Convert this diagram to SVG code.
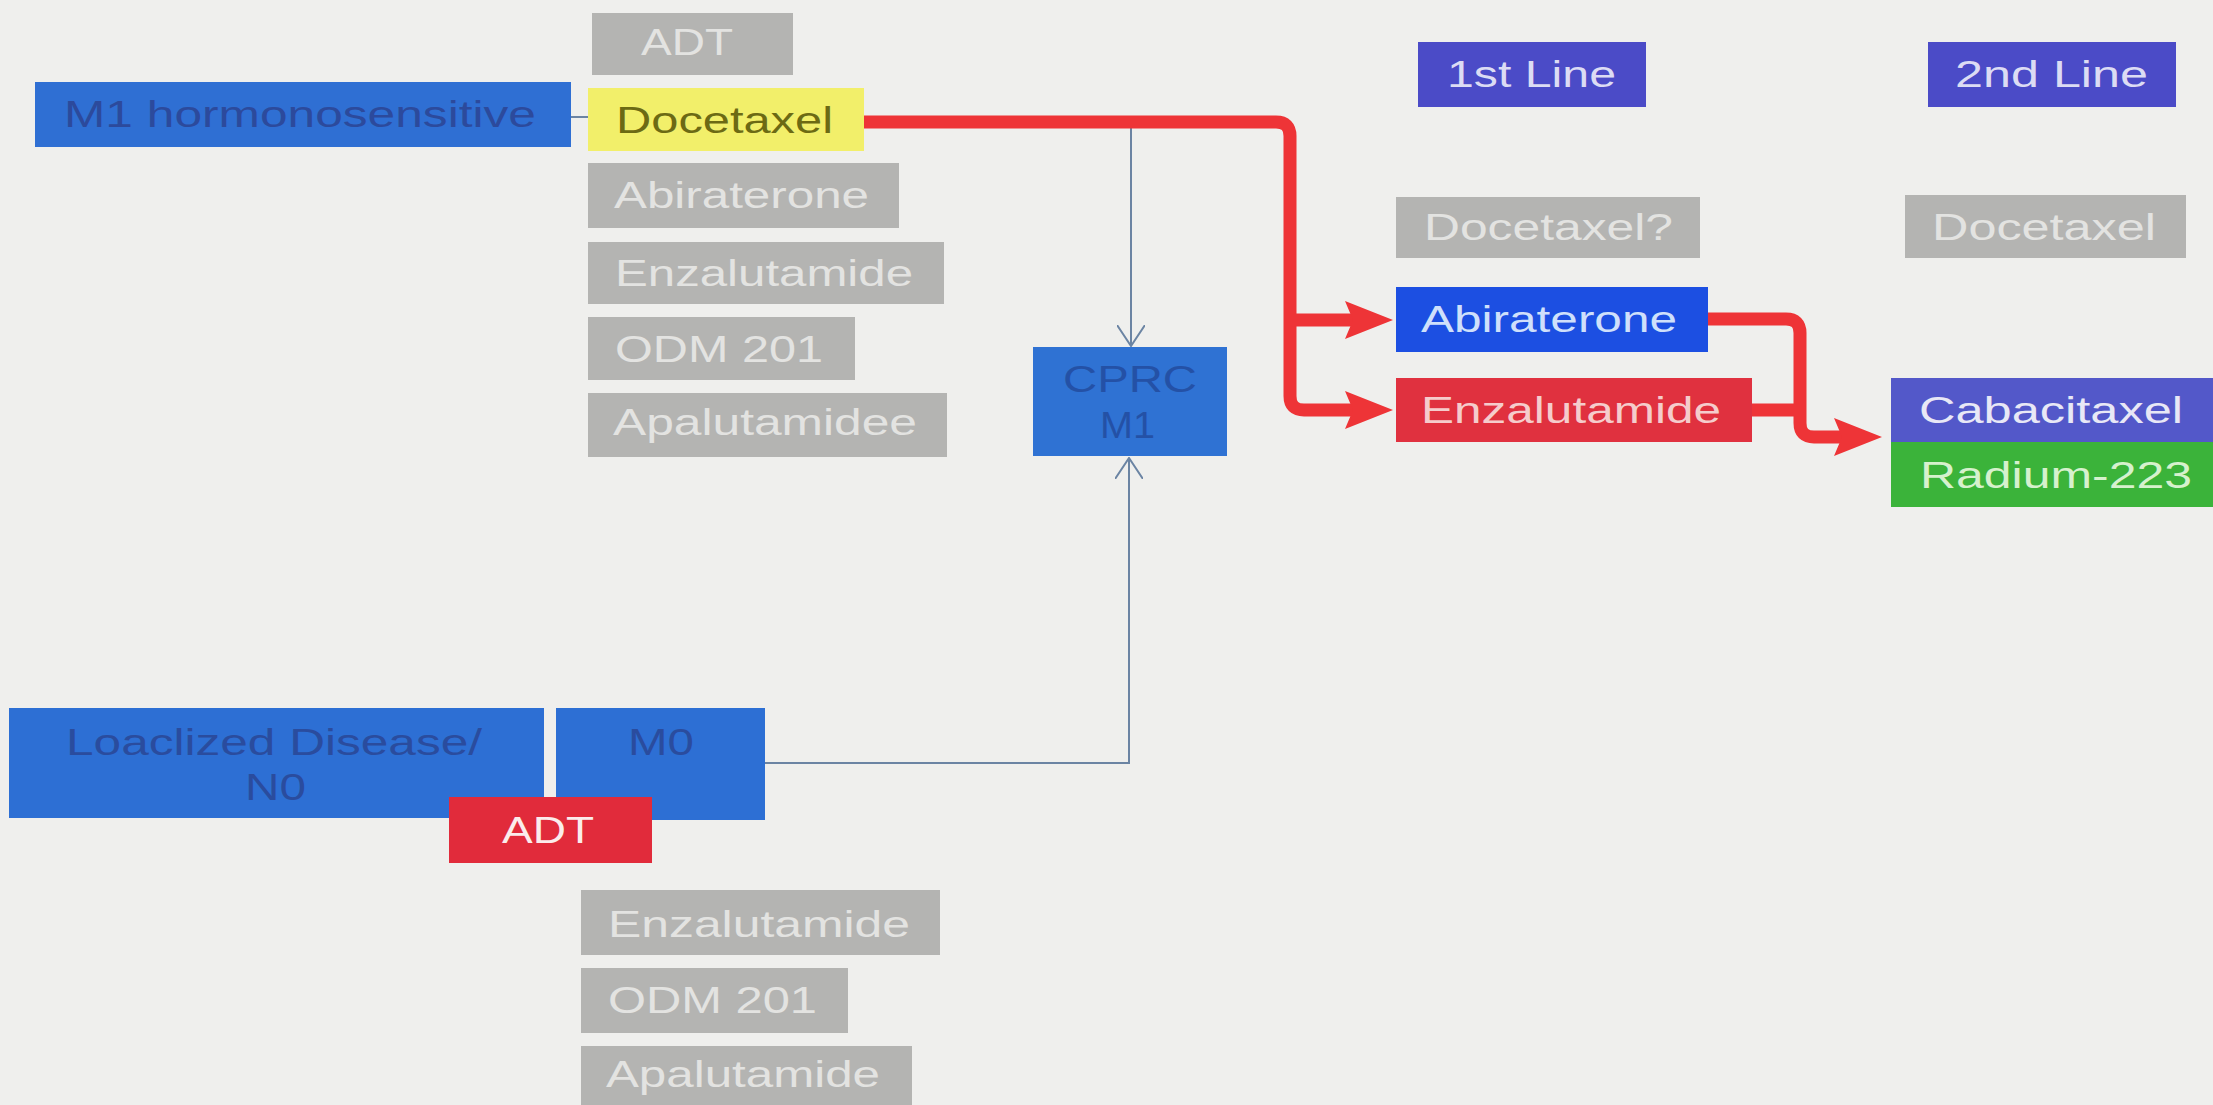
<svg xmlns="http://www.w3.org/2000/svg" width="2213" height="1105" viewBox="0 0 2213 1105">
<style>
text{font-family:"Liberation Sans",Arial,sans-serif;font-size:37px}
.gray rect{fill:#b4b4b2}
.gray text{fill:#e3e3e1}
.red-path{fill:none;stroke:#ee3437;stroke-width:13;stroke-linejoin:round}
.thin{fill:none;stroke:#6b84a3;stroke-width:2}
</style>
<defs>
<marker id="bigArrow" markerUnits="userSpaceOnUse" viewBox="0 0 48 38" refX="15" refY="19" markerWidth="48" markerHeight="38" orient="auto">
<path d="M0,0 L48,19 L0,38 L8,19 z" fill="#ee3437"/>
</marker>
<marker id="openArrow" markerUnits="userSpaceOnUse" viewBox="0 0 22 28" refX="21" refY="14" markerWidth="22" markerHeight="28" orient="auto">
<path d="M0,0 L21,14 L0,28" fill="none" stroke="#6b84a3" stroke-width="2"/>
</marker>
</defs>
<rect x="0" y="0" width="2213" height="1105" fill="#efefed"/>

<g id="connectors">
<line class="thin" x1="571" y1="117" x2="588" y2="117"/>
<path class="thin" d="M1131,128 V346" marker-end="url(#openArrow)"/>
<path class="thin" d="M765,763 H1129 V458" marker-end="url(#openArrow)"/>
<path class="red-path" d="M864,122 H1276 Q1290,122 1290,136 V396 Q1290,410 1304,410 H1360" marker-end="url(#bigArrow)"/>
<path class="red-path" d="M1290,320 H1360" marker-end="url(#bigArrow)"/>
<path class="red-path" d="M1708,319 H1786 Q1800,319 1800,333 V423 Q1800,437 1814,437 H1849" marker-end="url(#bigArrow)"/>
<path class="red-path" d="M1752,410 H1800"/>
</g>

<g id="adt-top" class="gray"><rect x="592" y="13" width="201" height="62"/><text x="641" y="55" textLength="92" lengthAdjust="spacingAndGlyphs">ADT</text></g>
<g id="m1-hormonosensitive"><rect x="35" y="82" width="536" height="65" fill="#2f6fd3"/><text x="64" y="127" fill="#2c4a9c" textLength="472" lengthAdjust="spacingAndGlyphs">M1 hormonosensitive</text></g>
<g id="docetaxel-yellow"><rect x="588" y="88" width="276" height="63" fill="#f2ef6a"/><text x="616" y="133" fill="#6c6a14" textLength="217" lengthAdjust="spacingAndGlyphs">Docetaxel</text></g>
<g id="abiraterone-gray" class="gray"><rect x="588" y="163" width="311" height="65"/><text x="614" y="208" textLength="255" lengthAdjust="spacingAndGlyphs">Abiraterone</text></g>
<g id="enzalutamide-gray" class="gray"><rect x="588" y="242" width="356" height="62"/><text x="615" y="286" textLength="298" lengthAdjust="spacingAndGlyphs">Enzalutamide</text></g>
<g id="odm201-gray" class="gray"><rect x="588" y="317" width="267" height="63"/><text x="615" y="362" textLength="208" lengthAdjust="spacingAndGlyphs">ODM 201</text></g>
<g id="apalutamidee-gray" class="gray"><rect x="588" y="393" width="359" height="64"/><text x="613" y="435" textLength="304" lengthAdjust="spacingAndGlyphs">Apalutamidee</text></g>

<g id="first-line"><rect x="1418" y="42" width="228" height="65" fill="#4b4bc7"/><text x="1447" y="87" fill="#dcdcf4" textLength="169" lengthAdjust="spacingAndGlyphs">1st Line</text></g>
<g id="second-line"><rect x="1928" y="42" width="248" height="65" fill="#4b4bc7"/><text x="1955" y="87" fill="#dcdcf4" textLength="193" lengthAdjust="spacingAndGlyphs">2nd Line</text></g>
<g id="docetaxel-q" class="gray"><rect x="1396" y="197" width="304" height="61"/><text x="1424" y="240" textLength="249" lengthAdjust="spacingAndGlyphs">Docetaxel?</text></g>
<g id="docetaxel-2nd" class="gray"><rect x="1905" y="195" width="281" height="63"/><text x="1932" y="240" textLength="224" lengthAdjust="spacingAndGlyphs">Docetaxel</text></g>
<g id="abiraterone-blue"><rect x="1396" y="287" width="312" height="65" fill="#1c4fe2"/><text x="1421" y="332" fill="#cfe0fb" textLength="256" lengthAdjust="spacingAndGlyphs">Abiraterone</text></g>
<g id="enzalutamide-red"><rect x="1396" y="378" width="356" height="64" fill="#e0313f"/><text x="1421" y="423" fill="#f5cccc" textLength="300" lengthAdjust="spacingAndGlyphs">Enzalutamide</text></g>
<g id="cabacitaxel"><rect x="1891" y="378" width="322" height="64" fill="#5358c9"/><text x="1919" y="423" fill="#e8e8f6" textLength="264" lengthAdjust="spacingAndGlyphs">Cabacitaxel</text></g>
<g id="radium-223"><rect x="1891" y="442" width="322" height="65" fill="#3bb33a"/><text x="1920" y="488" fill="#d6f1cd" textLength="272" lengthAdjust="spacingAndGlyphs">Radium-223</text></g>
<g id="cprc-m1"><rect x="1033" y="347" width="194" height="109" fill="#2f72d3"/><text x="1063" y="392" fill="#2451a6" textLength="134" lengthAdjust="spacingAndGlyphs">CPRC</text><text x="1100" y="438" fill="#2451a6" textLength="55" lengthAdjust="spacingAndGlyphs">M1</text></g>

<g id="localized-disease"><rect x="9" y="708" width="535" height="110" fill="#2d6fd4"/><text x="66" y="755" fill="#2a4c9e" textLength="416" lengthAdjust="spacingAndGlyphs">Loaclized Disease/</text><text x="245" y="800" fill="#2a4c9e" textLength="61" lengthAdjust="spacingAndGlyphs">N0</text></g>
<g id="m0"><rect x="556" y="708" width="209" height="112" fill="#2d6fd4"/><text x="628" y="755" fill="#2a4c9e" textLength="66" lengthAdjust="spacingAndGlyphs">M0</text></g>
<g id="adt-red"><rect x="449" y="797" width="203" height="66" fill="#e12b3b"/><text x="502" y="843" fill="#fbecec" textLength="92" lengthAdjust="spacingAndGlyphs">ADT</text></g>
<g id="enzalutamide-gray-bottom" class="gray"><rect x="581" y="890" width="359" height="65"/><text x="608" y="937" textLength="302" lengthAdjust="spacingAndGlyphs">Enzalutamide</text></g>
<g id="odm201-gray-bottom" class="gray"><rect x="581" y="968" width="267" height="65"/><text x="608" y="1013" textLength="209" lengthAdjust="spacingAndGlyphs">ODM 201</text></g>
<g id="apalutamide-gray-bottom" class="gray"><rect x="581" y="1046" width="331" height="70"/><text x="606" y="1087" textLength="274" lengthAdjust="spacingAndGlyphs">Apalutamide</text></g>
</svg>
